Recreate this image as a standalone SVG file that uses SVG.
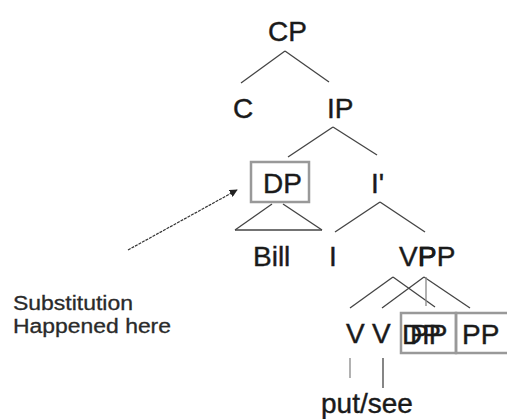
<svg xmlns="http://www.w3.org/2000/svg" width="507" height="419" viewBox="0 0 507 419">
<style>
.t{font-family:"Liberation Sans",Arial,sans-serif;font-size:28px;fill:#1a1a1a;stroke:#1a1a1a;stroke-width:0.4}
.s{font-family:"Liberation Sans",Arial,sans-serif;font-size:20px;fill:#2a2a2a;stroke:#2a2a2a;stroke-width:0.3}
.e{stroke:#444;stroke-width:1.3;fill:none}
.g{stroke:#888;stroke-width:1.3;fill:none}
.b{stroke:#999;stroke-width:2.5;fill:none}
</style>
<defs>
<marker id="ah" viewBox="0 0 10 10" refX="9" refY="5" markerWidth="8" markerHeight="8" orient="auto" markerUnits="userSpaceOnUse">
<path d="M0,0 L10,5 L0,10 z" fill="#222"/>
</marker>
</defs>
<rect width="507" height="419" fill="#fff"/>
<g id="connectors">
<line class="e" x1="285" y1="51" x2="241" y2="83"/>
<line class="e" x1="285" y1="51" x2="329" y2="82"/>
<line class="e" x1="333" y1="127" x2="288" y2="157"/>
<line class="e" x1="333" y1="127" x2="377" y2="155"/>
<line class="e" x1="272" y1="204" x2="235" y2="230"/>
<line class="e" x1="283" y1="204" x2="322" y2="230"/>
<line class="e" x1="235" y1="230" x2="322" y2="230"/>
<line class="e" x1="380" y1="202" x2="335" y2="232"/>
<line class="e" x1="380" y1="202" x2="425" y2="232"/>
<line class="e" x1="393" y1="277" x2="350" y2="308"/>
<line class="e" x1="393" y1="277" x2="435" y2="307"/>
<line class="e" x1="424" y1="277" x2="382" y2="308"/>
<line class="e" x1="424" y1="277" x2="470" y2="308"/>
<line class="g" x1="426" y1="277" x2="426" y2="306"/>
<line class="g" x1="350" y1="358" x2="350" y2="378"/>
<line class="e" x1="383" y1="358" x2="383" y2="388"/>
<line stroke="#333" stroke-width="1.2" stroke-dasharray="3,1" x1="128" y1="250" x2="237" y2="190" marker-end="url(#ah)"/>
</g>
<g id="CP"><text class="t" x="268" y="41">CP</text></g>
<g id="C"><text class="t" x="233" y="118">C</text></g>
<g id="IP"><text class="t" x="327" y="118">IP</text></g>
<g id="DP"><rect class="b" x="251" y="162" width="58" height="40"/><text class="t" x="263" y="193">DP</text></g>
<g id="Ibar"><text class="t" x="371" y="193">I'</text></g>
<g id="Bill"><text class="t" x="253" y="266">Bill</text></g>
<g id="I"><text class="t" x="329" y="266">I</text></g>
<g id="VP"><text class="t" x="399" y="266">VP</text></g>
<g id="PP"><text class="t" x="418" y="266">PP</text></g>
<g id="V1"><text class="t" x="346" y="343">V</text></g>
<g id="V2"><text class="t" x="372" y="343">V</text></g>
<g id="DP2"><rect class="b" x="401" y="313" width="55" height="40"/><text class="t" x="402" y="344">DP</text><text class="t" x="410" y="344">PP</text></g>
<g id="PP2"><rect class="b" x="456" y="313" width="54" height="40"/><text class="t" x="462" y="344">PP</text></g>
<g id="putsee"><text class="t" x="321" y="413">put/see</text></g>
<g id="label"><text class="s" x="13" y="310" textLength="120" lengthAdjust="spacingAndGlyphs">Substitution</text><text class="s" x="13" y="333" textLength="158" lengthAdjust="spacingAndGlyphs">Happened here</text></g>
</svg>
